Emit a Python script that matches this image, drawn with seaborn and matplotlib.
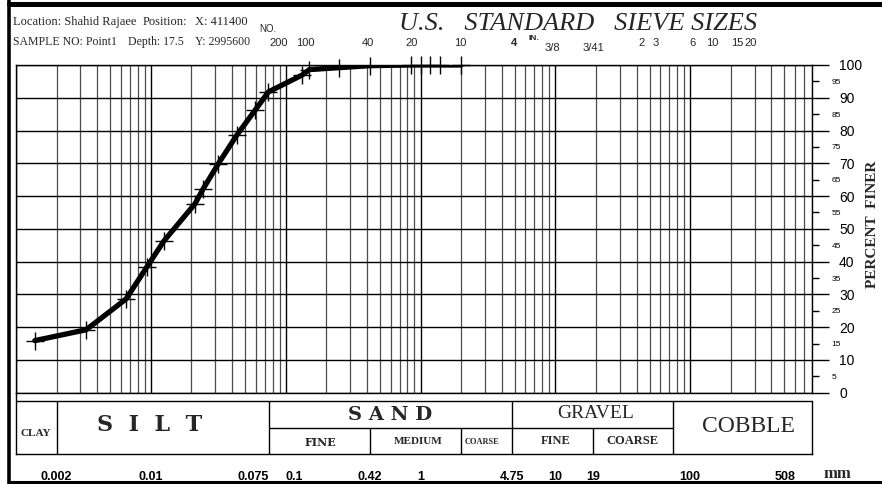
import matplotlib
matplotlib.use("Agg")
import matplotlib.pyplot as plt
import seaborn as sns
import numpy as np
import pandas as pd
from matplotlib.ticker import LogLocator, NullLocator, NullFormatter
from matplotlib.lines import Line2D

# grain size curve
grain_mm = [0.00138, 0.00331, 0.00655, 0.00932, 0.0125, 0.0213, 0.0245, 0.0317,
            0.0434, 0.0593, 0.0745, 0.132, 0.15, 0.25, 0.425, 0.85, 1.0, 1.18, 1.4, 2.0]
percent_finer = [15.9, 19.2, 28.6, 38.3, 46.3, 57.7, 62.3, 69.9,
                 78.6, 86.2, 91.8, 96.9, 98.6, 99.2, 99.8, 100, 100, 100, 100, 100]

y_major = list(range(0, 101, 10))
y_minor = list(range(5, 100, 10))

mm_ticks = [0.002, 0.01, 0.075, 0.1, 0.42, 1, 2, 4.75, 10, 19, 75, 100, 508]
mm_labels = ["0.002", "0.01", "0.075", "0.1", "0.42", "1", "", "4.75", "10", "19", "", "100", "508"]

# sieve labels along the top (pixel x of label centre)
sieve_no = ["200", "100", "40", "20", "10"]
sieve_no_px = [279, 305, 368, 412, 460]
sieve_in = ["2", "3", "6", "10", "15", "20"]
sieve_in_px = [642, 656, 692, 712, 737, 751]

W, H = 882, 484


def fx(px):
    return px / W


def fy(py):
    return 1 - py / H


sns.set_style("white")
plt.rcParams["font.family"] = ["Liberation Serif", "DejaVu Serif"]

fig = plt.figure(figsize=(8.82, 4.84), dpi=100)
fig.patch.set_facecolor("white")

# main grading chart
ax = fig.add_axes([fx(16), fy(392.7), fx(812) - fx(16), fy(65) - fy(392.7)])
df = pd.DataFrame({"mm": grain_mm, "pct": percent_finer})
sns.lineplot(data=df, x="mm", y="pct", ax=ax, color="black", lw=3.8, zorder=3)
sns.scatterplot(data=df, x="mm", y="pct", ax=ax, marker="+", s=150, color="black",
                linewidth=1.0, zorder=4, clip_on=False)
ax.set_xscale("log")
ax.set_xlim(0.001, 800)
ax.set_ylim(0, 100)
ax.xaxis.set_major_locator(LogLocator(base=10, numticks=20))
ax.xaxis.set_minor_locator(LogLocator(base=10, subs=np.arange(2, 10), numticks=200))
ax.xaxis.set_minor_formatter(NullFormatter())
ax.grid(which="major", axis="x", color="black", lw=1.0)
ax.grid(which="minor", axis="x", color="0.3", lw=0.9)
ax.tick_params(axis="x", which="both", length=0, labelbottom=False)

ax.yaxis.tick_right()
ax.set_yticks(y_major)
ax.set_yticklabels([str(v) for v in y_major], family="Liberation Sans")
ax.set_yticks(y_minor, minor=True)
ax.set_yticklabels([str(v) for v in y_minor], minor=True, family="Liberation Sans")
ax.grid(which="major", axis="y", color="black", lw=1.0)
ax.tick_params(axis="y", which="major", length=12.5, width=1, pad=7, labelsize=10,
               direction="out", colors="black")
ax.tick_params(axis="y", which="minor", length=5, width=1, pad=9, labelsize=6,
               direction="out", colors="black")
for sp in ax.spines.values():
    sp.set_color("black")
    sp.set_linewidth(1)
ax.set_xlabel("")
ax.set_ylabel("")

# soil classification table underneath
tb = fig.add_axes([fx(16), fy(454), fx(812) - fx(16), fy(392.7) - fy(454)])
tb.set_xscale("log")
tb.set_xlim(0.001, 800)
tb.set_ylim(0, 61.3)
tb.patch.set_alpha(0)
tb.spines["top"].set_visible(False)
tb.spines["right"].set_bounds(0, 53)
for sp in tb.spines.values():
    sp.set_color("black")
    sp.set_linewidth(1)
tb.hlines(53, 0.001, 800, color="black", lw=1)
tb.hlines(26, 0.075, 75, color="black", lw=1)
tb.vlines([0.002, 0.075, 4.75, 75], 0, 53, color="black", lw=1)
tb.vlines([0.42, 2, 19], 0, 26, color="black", lw=1)
tb.set_xticks(mm_ticks)
tb.set_xticklabels(mm_labels)
tb.xaxis.set_minor_locator(NullLocator())
tb.set_yticks([])
tb.tick_params(axis="x", length=6, width=1, pad=6, labelsize=9, colors="black")
for lab in tb.get_xticklabels():
    lab.set_fontweight("bold")
    lab.set_family("Liberation Sans")
    if lab.get_text() == "0.075":
        lab.set_ha("right")
    elif lab.get_text() == "0.1":
        lab.set_ha("left")

# table words
fig.text(fx(36), fy(434), "CLAY", ha="center", va="center", fontsize=8, weight="bold")
fig.text(fx(150), fy(425), "S  I  L  T", ha="center", va="center", fontsize=16, weight="bold",
         family="DejaVu Serif")
fig.text(fx(390), fy(415), "S A N D", ha="center", va="center", fontsize=14, weight="bold",
         family="DejaVu Serif")
fig.text(fx(320), fy(443), "FINE", ha="center", va="center", fontsize=8, weight="bold",
         family="DejaVu Serif")
fig.text(fx(418), fy(441), "MEDIUM", ha="center", va="center", fontsize=8, weight="bold")
fig.text(fx(482), fy(442), "COARSE", ha="center", va="center", fontsize=6, weight="bold")
fig.text(fx(596), fy(414), "GRAVEL", ha="center", va="center", fontsize=14)
fig.text(fx(556), fy(441), "FINE", ha="center", va="center", fontsize=9, weight="bold")
fig.text(fx(632), fy(441), "COARSE", ha="center", va="center", fontsize=9, weight="bold")
fig.text(fx(748), fy(426), "COBBLE", ha="center", va="center", fontsize=17)
fig.text(fx(837), fy(474), "mm", ha="center", va="center", fontsize=12, weight="bold")

# header
fig.text(fx(13), fy(21.7), "Location: Shahid Rajaee", ha="left", va="center", fontsize=9)
fig.text(fx(143), fy(21.7), "Position:", ha="left", va="center", fontsize=9)
fig.text(fx(195), fy(21.7), "X: 411400", ha="left", va="center", fontsize=9)
fig.text(fx(13), fy(41.7), "SAMPLE NO: Point1", ha="left", va="center", fontsize=8.5)
fig.text(fx(128), fy(41.7), "Depth: 17.5", ha="left", va="center", fontsize=8.5)
fig.text(fx(195), fy(41.7), "Y: 2995600", ha="left", va="center", fontsize=8.5)

fig.text(fx(578), fy(24), "U.S.   STANDARD   SIEVE SIZES", ha="center", va="center",
         fontsize=19, style="italic")
fig.text(fx(268), fy(28.5), "NO.", ha="center", va="center", fontsize=7, family="Liberation Sans")
for lab, px in zip(sieve_no, sieve_no_px):
    fig.text(fx(px), fy(42.5), lab, ha="center", va="center", fontsize=8, family="Liberation Sans")
fig.text(fx(514), fy(42.5), "4", ha="center", va="center", fontsize=8, weight="bold",
         family="Liberation Sans")
fig.text(fx(534), fy(38), "IN.", ha="center", va="center", fontsize=6, weight="bold",
         family="Liberation Sans")
fig.text(fx(552), fy(48), "3/8", ha="center", va="center", fontsize=8, family="Liberation Sans")
fig.text(fx(593), fy(48), "3/41", ha="center", va="center", fontsize=8, family="Liberation Sans")
for lab, px in zip(sieve_in, sieve_in_px):
    fig.text(fx(px), fy(43), lab, ha="center", va="center", fontsize=8, family="Liberation Sans")

fig.text(fx(872), fy(224), "PERCENT  FINER", ha="center", va="center", rotation=90,
         fontsize=11, weight="bold")

# heavy frame
fig.add_artist(Line2D([fx(9), 1], [fy(3.5), fy(3.5)], color="black", lw=3.6))
fig.add_artist(Line2D([fx(9), fx(9)], [0, 1], color="black", lw=2.6))
fig.add_artist(Line2D([fx(9), 1], [fy(482), fy(482)], color="black", lw=2.2))

fig.savefig("out.png", dpi=100)
plt.close(fig)
